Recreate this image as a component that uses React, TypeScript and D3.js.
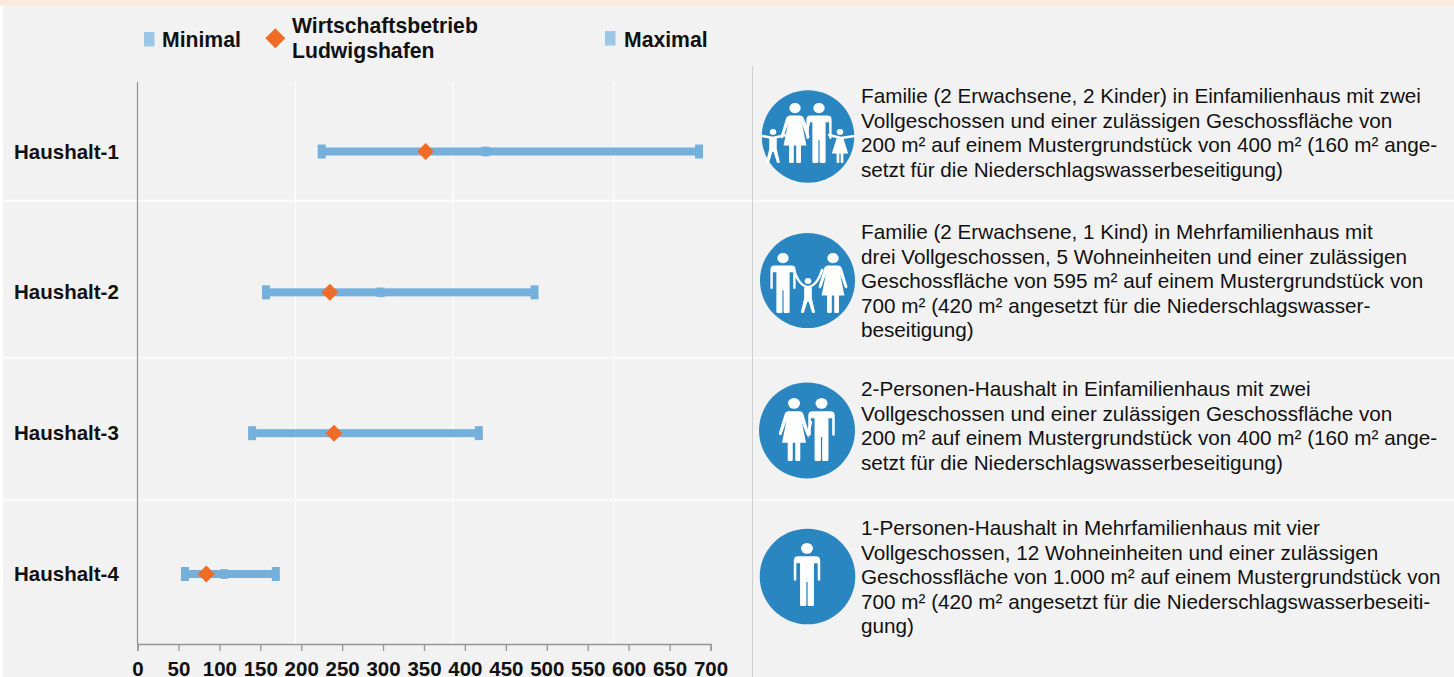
import { useEffect, useRef } from 'react'
import * as d3 from 'd3'

const households = ['Haushalt-1', 'Haushalt-2', 'Haushalt-3', 'Haushalt-4']
const minimal = [225, 157, 140, 58]
const maximal = [686, 485, 417, 169]
const ludwigshafen = [352, 235, 240, 84]
const innerMark = [425, 297, 0, 106]
const xTicks = d3.range(0, 701, 50)
const gridValues = [193, 385.5, 582]

const descriptions = [
  [
    'Familie (2 Erwachsene, 2 Kinder) in Einfamilienhaus mit zwei',
    'Vollgeschossen und einer zulässigen Geschossfläche von',
    '200 m² auf einem Mustergrundstück von 400 m² (160 m² ange-',
    'setzt für die Niederschlagswasserbeseitigung)',
  ],
  [
    'Familie (2 Erwachsene, 1 Kind) in Mehrfamilienhaus mit',
    'drei Vollgeschossen, 5 Wohneinheiten und einer zulässigen',
    'Geschossfläche von 595 m² auf einem Mustergrundstück von',
    '700 m² (420 m² angesetzt für die Niederschlagswasser-',
    'beseitigung)',
  ],
  [
    '2-Personen-Haushalt in Einfamilienhaus mit zwei',
    'Vollgeschossen und einer zulässigen Geschossfläche von',
    '200 m² auf einem Mustergrundstück von 400 m² (160 m² ange-',
    'setzt für die Niederschlagswasserbeseitigung)',
  ],
  [
    '1-Personen-Haushalt in Mehrfamilienhaus mit vier',
    'Vollgeschossen, 12 Wohneinheiten und einer zulässigen',
    'Geschossfläche von 1.000 m² auf einem Mustergrundstück von',
    '700 m² (420 m² angesetzt für die Niederschlagswasserbeseiti-',
    'gung)',
  ],
]

const FONT = '"Liberation Sans", Arial, sans-serif'
const BAR = '#75afdc'
const LEGEND_BLUE = '#9cc8e8'
const ORANGE = '#ee6c25'
const ICON = '#2a86c1'
const INK = '#111111'
const AXIS = '#969696'

// pictograms, drawn in a box 100 units high
const MAN =
  'M-14 21H14Q21 21 21 28V58Q21 60 19 60Q17 60 17 58V32H11V98Q11 100 9 100H3Q1 100 1 98V62H-1V98Q-1 100 -3 100H-9Q-11 100 -11 98V32H-17V58Q-17 60 -19 60Q-21 60 -21 58V28Q-21 21 -14 21Z'
const WOMAN =
  'M-9 21H9Q13 21 15 26L24 56Q24 59 22 59Q20 59 19 56L12 36L19 71H10V98Q10 100 8 100H4Q2 100 2 98V71H-2V98Q-2 100 -4 100H-8Q-10 100 -10 98V71H-19L-12 36L-19 56Q-20 59 -22 59Q-24 59 -24 56L-15 26Q-13 21 -9 21Z'
const KID =
  'M-9 25H9L11 28V58L20 97Q20 100 17 100H14Q12 100 11 97L2 68H-2L-11 97Q-12 100 -14 100H-17Q-20 100 -20 97L-11 58V28Z'
const GIRL =
  'M-8 25H8L11 30L24 72H10V97Q10 100 8 100H5Q2 100 2 97V72H-2V97Q-2 100 -5 100H-8Q-10 100 -10 97V72H-24L-11 30Z'

const icons = [
  {
    cx: 808, cy: 136.5, r: 46.3,
    figures: [
      { d: WOMAN, x: 795, top: 103, h: 60 },
      { d: MAN, x: 819, top: 103, h: 60 },
      { d: KID, x: 773, top: 129, h: 34 },
      { d: GIRL, x: 840, top: 129, h: 34 },
    ],
    arms: ['M762 136L773 138L786 135', 'M855 136L841 138L829 135', 'M804 122L807 130L809 122'],
  },
  {
    cx: 807.5, cy: 280.5, r: 47.5,
    figures: [
      { d: MAN, x: 783, top: 253, h: 60 },
      { d: WOMAN, x: 833, top: 253, h: 60 },
      { d: KID, x: 808, top: 278, h: 35 },
    ],
    arms: ['M794 270Q799 286 808 287Q817 286 822 270'],
  },
  {
    cx: 807, cy: 430.5, r: 48,
    figures: [
      { d: WOMAN, x: 794, top: 398, h: 63 },
      { d: MAN, x: 821.5, top: 398, h: 63 },
    ],
    arms: ['M802 420L808 434L811 422'],
  },
  {
    cx: 807.5, cy: 576.5, r: 47.8,
    figures: [{ d: MAN, x: 807, top: 543, h: 63 }],
    arms: [],
  },
]

const rowCenters = [151.5, 292.5, 433, 574]
const textStart = [103, 239, 396, 535]
const LINE_H = 24.5

export default function App() {
  const svgRef = useRef<SVGSVGElement>(null)

  useEffect(() => {
    if (!svgRef.current) return
    const svg = d3.select(svgRef.current)
    svg.selectAll('*').remove()

    const x = d3.scaleLinear().domain([0, 700]).range([137.5, 710.5])
    const y = d3.scalePoint<string>().domain(households).range([rowCenters[0], rowCenters[3]])

    // Background
    svg.append('rect').attr('x', 3).attr('width', 1451).attr('height', 677).attr('fill', '#f2f2f2')
    svg.append('rect').attr('width', 1454).attr('height', 5.3).attr('fill', '#fde9d9')

    // White grid lines, they do not sit on the ticks in the original
    svg.append('g')
      .selectAll('line')
      .data(gridValues)
      .enter().append('line')
      .attr('x1', d => x(d)).attr('x2', d => x(d))
      .attr('y1', 82).attr('y2', 644)
      .attr('stroke', '#ffffff').attr('stroke-width', 1)

    // Row separators
    ;[201, 358, 500].forEach(v => {
      svg.append('line')
        .attr('x1', 3).attr('x2', 1454)
        .attr('y1', v).attr('y2', v)
        .attr('stroke', '#fafafa').attr('stroke-width', 2.5)
    })

    // Divider between chart and texts
    svg.append('line')
      .attr('x1', 752.5).attr('x2', 752.5)
      .attr('y1', 66).attr('y2', 677)
      .attr('stroke', '#cfcfcf').attr('stroke-width', 1)

    // Axes
    svg.append('line')
      .attr('x1', 137.5).attr('x2', 137.5)
      .attr('y1', 82).attr('y2', 644)
      .attr('stroke', AXIS).attr('stroke-width', 1.3)

    const axis = svg.append('g')
      .attr('transform', 'translate(0,644)')
      .call(d3.axisBottom(x).tickValues(xTicks).tickSize(7).tickPadding(10).tickSizeOuter(7))
    axis.select('.domain').attr('stroke', AXIS).attr('stroke-width', 1.3)
    axis.selectAll('.tick line').attr('stroke', AXIS).attr('stroke-width', 1.3)
    axis.selectAll('text')
      .attr('fill', INK)
      .attr('font-family', FONT)
      .attr('font-size', '20.5px')
      .attr('font-weight', 700)

    // Household labels
    households.forEach(h => {
      svg.append('text')
        .attr('x', 14).attr('y', (y(h) as number) + 7)
        .attr('fill', INK)
        .attr('font-family', FONT)
        .attr('font-size', '20.5px')
        .attr('font-weight', 700)
        .text(h)
    })

    // Range bars
    households.forEach((h, i) => {
      const cy = y(h) as number
      svg.append('rect')
        .attr('x', x(minimal[i])).attr('width', x(maximal[i]) - x(minimal[i]))
        .attr('y', cy - 4).attr('height', 8)
        .attr('fill', BAR)
      ;[minimal[i], maximal[i]].forEach(v => {
        svg.append('rect')
          .attr('x', x(v) - 4).attr('width', 8)
          .attr('y', cy - 7).attr('height', 14)
          .attr('fill', BAR)
      })
      if (innerMark[i] > 0) {
        svg.append('rect')
          .attr('x', x(innerMark[i]) - 4).attr('width', 8)
          .attr('y', cy - 4.8).attr('height', 9.6)
          .attr('fill', BAR)
      }
      svg.append('path')
        .attr('d', 'M0 -8.5L8.5 0L0 8.5L-8.5 0Z')
        .attr('transform', `translate(${x(ludwigshafen[i])},${cy})`)
        .attr('fill', ORANGE)
    })

    // Legend
    const legendText = (tx: number, ty: number, s: string) =>
      svg.append('text')
        .attr('x', tx).attr('y', ty)
        .attr('fill', INK)
        .attr('font-family', FONT)
        .attr('font-size', '21.2px')
        .attr('font-weight', 700)
        .text(s)

    svg.append('rect').attr('x', 144).attr('y', 32).attr('width', 10.5).attr('height', 14.5).attr('fill', LEGEND_BLUE)
    legendText(162, 47, 'Minimal')
    svg.append('path').attr('d', 'M0 -10L10 0L0 10L-10 0Z').attr('transform', 'translate(275.3,38.3)').attr('fill', ORANGE)
    legendText(292, 33, 'Wirtschaftsbetrieb')
    legendText(292, 58, 'Ludwigshafen')
    svg.append('rect').attr('x', 605).attr('y', 31).attr('width', 10.5).attr('height', 14.5).attr('fill', LEGEND_BLUE)
    legendText(624, 47, 'Maximal')

    // Pictograms
    icons.forEach(ic => {
      const g = svg.append('g')
      g.append('circle').attr('cx', ic.cx).attr('cy', ic.cy).attr('r', ic.r).attr('fill', ICON)
      ic.arms.forEach(a => {
        g.append('path').attr('d', a)
          .attr('fill', 'none').attr('stroke', '#ffffff')
          .attr('stroke-width', 2.5).attr('stroke-linecap', 'round')
      })
      ic.figures.forEach(f => {
        const k = f.h / 100
        g.append('ellipse')
          .attr('cx', f.x).attr('cy', f.top + 8.5 * k)
          .attr('rx', 9.5 * k).attr('ry', 8.5 * k)
          .attr('fill', '#ffffff')
        g.append('path').attr('d', f.d)
          .attr('transform', `translate(${f.x},${f.top}) scale(${k})`)
          .attr('fill', '#ffffff')
      })
    })

    // Descriptions
    descriptions.forEach((lines, i) => {
      const t = svg.append('text')
        .attr('fill', INK)
        .attr('font-family', FONT)
        .attr('font-size', '20.7px')
      lines.forEach((line, j) => {
        t.append('tspan')
          .attr('x', 861)
          .attr('y', textStart[i] + j * LINE_H)
          .text(line)
      })
    })
  }, [])

  return (
    <div style={{ position: 'absolute', left: 0, top: 0, width: 1454, height: 677, overflow: 'hidden', background: '#fff' }}>
      <svg ref={svgRef} width={1454} height={677} style={{ display: 'block' }} />
    </div>
  )
}
